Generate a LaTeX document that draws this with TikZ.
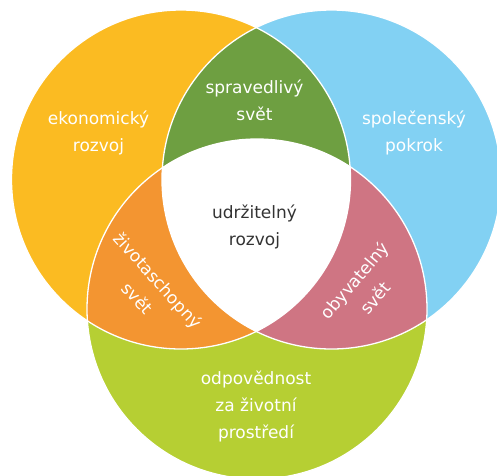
\documentclass[tikz,border=0pt]{standalone}
\usepackage{fontspec}
\setmainfont{DejaVu Sans}
\definecolor{cyellow}{HTML}{FBBB22}
\definecolor{cblue}{HTML}{82D1F3}
\definecolor{cgreen}{HTML}{B6CF33}
\definecolor{cdark}{HTML}{6E9F41}
\definecolor{corange}{HTML}{F39531}
\definecolor{cpink}{HTML}{CF7583}
\definecolor{ctext}{HTML}{333333}
\tikzset{
  lbl/.style={text=white, align=center, font=\fontsize{17}{27}\selectfont, inner sep=0pt},
  lbldark/.style={lbl, text=ctext},
  sep/.style={draw=white, line width=1.3pt}
}
\begin{document}
\begin{tikzpicture}[x=1pt,y=-1pt]
\useasboundingbox (0,0) rectangle (497,475);
\clip (0,0) rectangle (497,475);
\def\Ypath{(181,179.5) circle[radius=169.5]}
\def\Bpath{(331.5,179.5) circle[radius=169.5]}
\def\Gpath{(257,309) circle[radius=170]}
% base circles
\fill[cyellow] \Ypath;
\fill[cblue] \Bpath;
\fill[cgreen] \Gpath;
% pairwise intersections
\begin{scope}\clip \Ypath; \fill[cdark] \Bpath; \end{scope}
\begin{scope}\clip \Ypath; \fill[corange] \Gpath; \end{scope}
\begin{scope}\clip \Bpath; \fill[cpink] \Gpath; \end{scope}
% triple intersection
\begin{scope}\clip \Ypath; \clip \Bpath; \fill[white] \Gpath; \end{scope}
% separating lines
\draw[sep] \Ypath;
\draw[sep] \Bpath;
\draw[sep] \Gpath;
% labels
\node[lbl] (eko) at (98.5,133) {ekonomický\\rozvoj};
\node[lbl] (spr) at (254.5,100) {spravedlivý\\svět};
\node[lbl] (spo) at (414,133) {společenský\\pokrok};
\node[lbldark] (udr) at (254.5,227) {udržitelný\\rozvoj};
\node[lbl] (odp) at (256,406) {odpovědnost\\za životní\\prostředí};
\node[lbl, rotate=-48] (ziv) at (148,289) {životaschopný\\svět};
\node[lbl, rotate=50] (oby) at (364.5,289) {obyvatelný\\svět};
\end{tikzpicture}
\end{document}
